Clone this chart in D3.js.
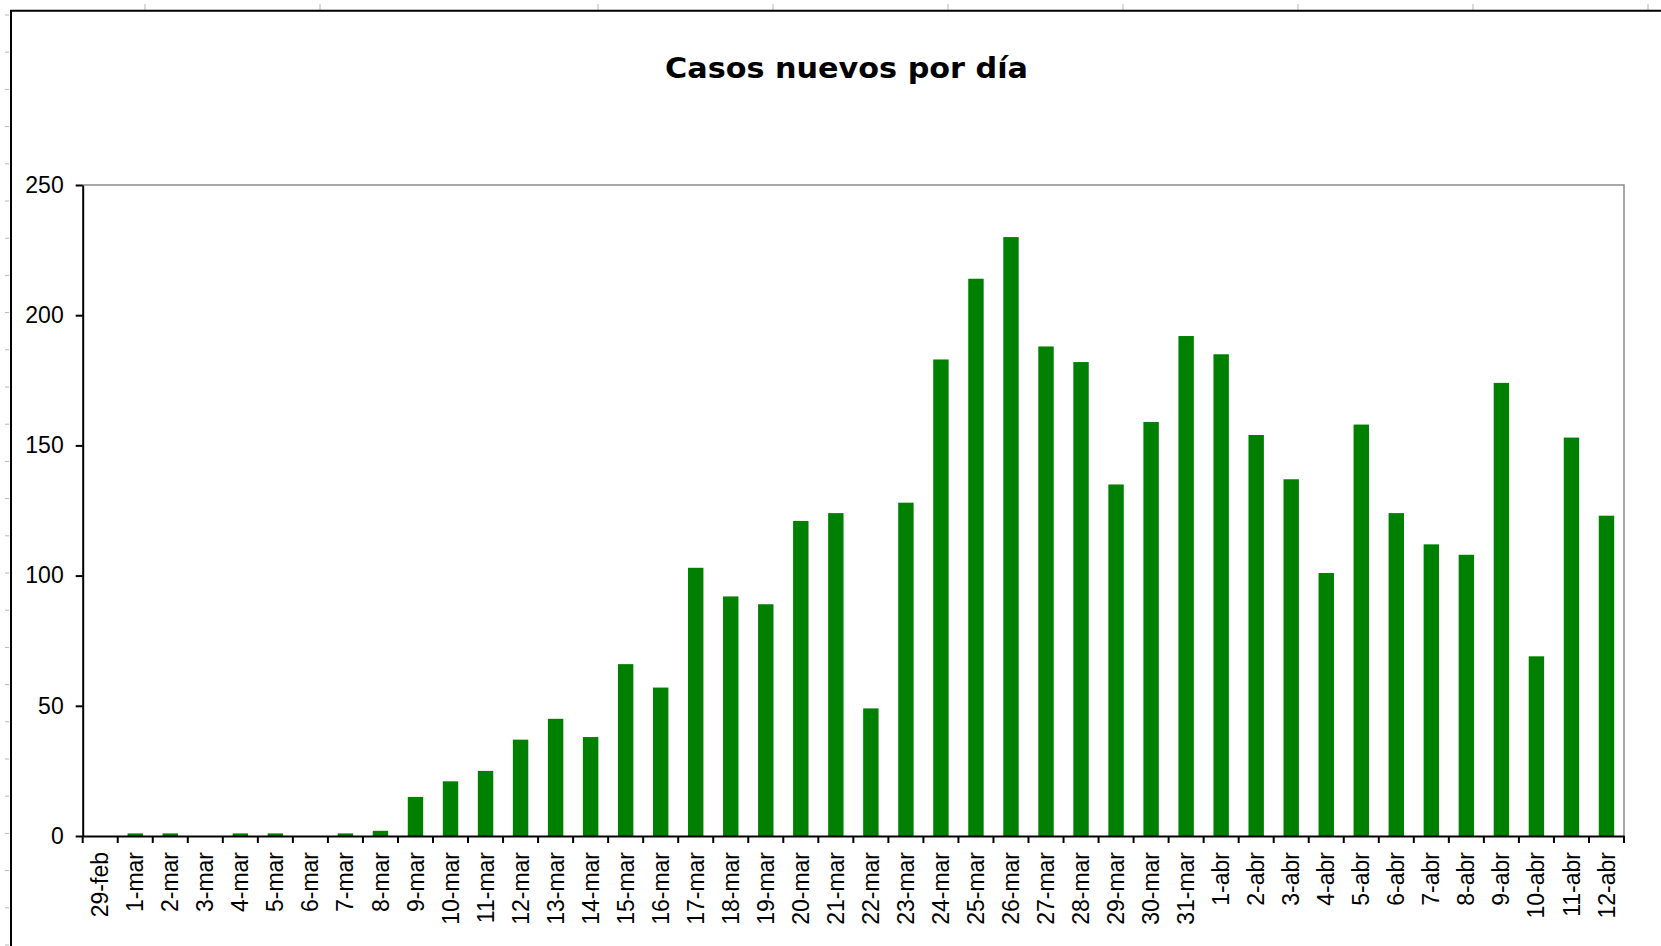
<!DOCTYPE html>
<html>
<head>
<meta charset="utf-8">
<script src="https://cdn.jsdelivr.net/npm/d3@7"></script>
<style>
  body { margin: 0; background: #fff; }
  svg { display: block; }
  .axis text { font-family: "Liberation Sans", Arial, sans-serif; font-size: 23px; fill: #000; }
</style>
</head>
<body>
<div id="chart"></div>
<script>
const width = 1661;
const height = 946;

// daily new cases, 29-feb to 12-abr
const categories = [
    '29-feb',
    '1-mar', '2-mar', '3-mar', '4-mar', '5-mar', '6-mar', '7-mar', '8-mar', '9-mar', '10-mar',
    '11-mar', '12-mar', '13-mar', '14-mar', '15-mar', '16-mar', '17-mar', '18-mar', '19-mar', '20-mar',
    '21-mar', '22-mar', '23-mar', '24-mar', '25-mar', '26-mar', '27-mar', '28-mar', '29-mar', '30-mar',
    '31-mar',
    '1-abr', '2-abr', '3-abr', '4-abr', '5-abr', '6-abr', '7-abr', '8-abr', '9-abr', '10-abr',
    '11-abr', '12-abr'
];
const casesPerDay = [
    0,
    1, 1, 0, 1, 1, 0, 1, 2, 15, 21,
    25, 37, 45, 38, 66, 57, 103, 92, 89, 121,
    124, 49, 128, 183, 214, 230, 188, 182, 135, 159,
    192,
    185, 154, 137, 101, 158, 124, 112, 108, 174, 69,
    153, 123
];
const yTicks = [0, 50, 100, 150, 200, 250];
const title = 'Casos nuevos por día';

const plot = { left: 82.7, right: 1624, top: 185, bottom: 836 };

const svg = d3.select('#chart').append('svg')
    .attr('width', width)
    .attr('height', height);

svg.append('rect')
    .attr('width', width)
    .attr('height', height)
    .attr('fill', '#fff');

// spreadsheet edge: row and column markers + chart frame
const sheet = svg.append('g');
sheet.selectAll('.row-tick')
    .data(d3.range(15, height, 37.2))
    .enter()
    .append('line')
    .attr('x1', 5).attr('x2', 9)
    .attr('y1', d => d).attr('y2', d => d)
    .attr('stroke', '#b8b8b8');
sheet.selectAll('.col-tick')
    .data([145, 320, 598, 773, 948, 1123, 1298, 1473, 1648])
    .enter()
    .append('line')
    .attr('x1', d => d).attr('x2', d => d)
    .attr('y1', 4).attr('y2', 10)
    .attr('stroke', '#b8b8b8');
sheet.append('path')
    .attr('d', `M11,${height + 5}V10.7H${width + 5}`)
    .attr('fill', 'none')
    .attr('stroke', '#000')
    .attr('stroke-width', 2);

svg.append('text')
    .attr('x', 846.5)
    .attr('y', 78)
    .attr('text-anchor', 'middle')
    .attr('textLength', 363)
    .attr('lengthAdjust', 'spacingAndGlyphs')
    .style('font-family', '"DejaVu Sans", sans-serif')
    .style('font-weight', 'bold')
    .style('font-size', '29px')
    .text(title);

const x = d3.scaleBand()
    .domain(categories)
    .range([plot.left, plot.right])
    .paddingInner(0.56)
    .paddingOuter(0.28);

const y = d3.scaleLinear()
    .domain([0, 250])
    .range([plot.bottom, plot.top]);

// plot border (top + right in grey)
svg.append('path')
    .attr('d', `M${plot.left},${y(250)}H${plot.right}V${plot.bottom}`)
    .attr('fill', 'none')
    .attr('stroke', '#8c8c8c')
    .attr('stroke-width', 1.5);

svg.append('g')
    .selectAll('rect')
    .data(casesPerDay)
    .enter()
    .append('rect')
    .attr('x', (d, i) => x(categories[i]))
    .attr('y', d => y(d))
    .attr('width', x.bandwidth())
    .attr('height', d => y(0) - y(d))
    .attr('fill', '#008000');

// y axis
const yAxis = svg.append('g')
    .attr('class', 'axis')
    .attr('transform', `translate(${plot.left},0)`)
    .call(d3.axisLeft(y).tickValues(yTicks).tickSize(7).tickSizeOuter(0).tickPadding(12));
yAxis.select('.domain').attr('stroke', '#000').attr('stroke-width', 2);
yAxis.selectAll('.tick line').attr('stroke', '#000').attr('stroke-width', 2);

// x axis: labels at band centres, ticks on band edges
const xAxis = svg.append('g')
    .attr('class', 'axis')
    .attr('transform', `translate(0,${plot.bottom})`)
    .call(d3.axisBottom(x).tickSize(0).tickSizeOuter(0));
xAxis.select('.domain').attr('stroke', '#000').attr('stroke-width', 2);
xAxis.selectAll('.tick text')
    .attr('transform', 'rotate(-90)')
    .attr('x', -16)
    .attr('y', 0)
    .attr('dy', '0.35em')
    .style('text-anchor', 'end');
xAxis.selectAll('.edge')
    .data(d3.range(categories.length + 1))
    .enter()
    .append('line')
    .attr('x1', i => plot.left + i * x.step())
    .attr('x2', i => plot.left + i * x.step())
    .attr('y1', 0)
    .attr('y2', 7)
    .attr('stroke', '#000')
    .attr('stroke-width', 2);
</script>
</body>
</html>
